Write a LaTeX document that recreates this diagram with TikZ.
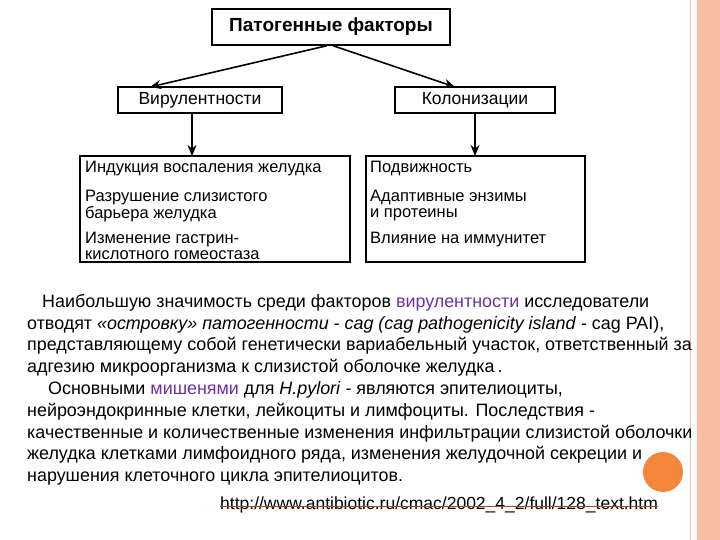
\documentclass[tikz,border=0pt]{standalone}
\usepackage{fontspec}
\setmainfont{Liberation Sans}
\usetikzlibrary{arrows.meta}
\definecolor{salmon}{RGB}{250,190,165}
\definecolor{orng}{RGB}{245,135,60}
\definecolor{purp}{RGB}{112,48,160}
\begin{document}
\begin{tikzpicture}[x=1pt,y=-1pt,
  box/.style={draw,line width=1.4pt,inner sep=0pt},
  item/.style={anchor=north west,align=left,font=\fontsize{16.5}{15.5}\selectfont,inner sep=0pt},
  para/.style={anchor=base west,inner sep=0pt,font=\fontsize{17.9}{20}\selectfont},
  arr/.style={-{Stealth[length=11pt,width=9pt]},line width=1.6pt}]
\useasboundingbox (0,0) rectangle (720,540);
\fill[salmon] (697,0) rectangle (720,540);
\draw[salmon,line width=1pt] (690,0) -- (690,540);
\node[box,minimum width=238,minimum height=36,font=\bfseries\fontsize{19}{21}\selectfont] (top) at (331,27) {Патогенные факторы};
\node[box,minimum width=164,minimum height=26,font=\fontsize{17.5}{19}\selectfont] (vir) at (200,100) {Вирулентности};
\node[box,minimum width=160,minimum height=26,font=\fontsize{17.5}{19}\selectfont] (col) at (475,100) {Колонизации};
\draw[box] (80,156) rectangle (350,262);
\draw[box] (366,156) rectangle (585,262);
\coordinate (bl) at (192,156);
\coordinate (br) at (475,156);
\node[item] (i1) at (85,161) {Индукция воспаления желудка};
\node[item] (i2) at (85,190) {Разрушение слизистого\\барьера желудка};
\node[item] (i3) at (85,232) {Изменение гастрин-\\кислотного гомеостаза};
\node[item] (j1) at (370,161) {Подвижность};
\node[item] (j2) at (370,190) {Адаптивные энзимы\\и протеины};
\node[item] (j3) at (370,232) {Влияние на иммунитет};
\draw[arr] ([xshift=-4pt]top.south) -- (150,87);
\draw[arr] ([xshift=2pt]top.south) -- (455,87);
\draw[arr] (vir.south -| bl) -- (bl);
\draw[arr] (col.south -| br) -- (br);
\node[para] (p1) at (42,307) {Наибольшую значимость среди факторов \textcolor{purp}{вирулентности} исследователи};
\node[para] (p2) at (27,329) {отводят \textit{«островку» патогенности - cag (cag pathogenicity island} - cag PAI),};
\node[para] (p3) at (27,350) {представляющему собой генетически вариабельный участок, ответственный за};
\node[para] (p4) at (27,372) {адгезию микроорганизма к слизистой оболочке желудка\,.};
\node[para] (p5) at (48,394) {Основными \textcolor{purp}{мишенями} для \textit{H.pylori} - являются эпителиоциты,};
\node[para] (p6) at (27,416) {нейроэндокринные клетки, лейкоциты и лимфоциты. Последствия -};
\node[para] (p7) at (27,438) {качественные и количественные изменения инфильтрации слизистой оболочки};
\node[para] (p8) at (27,459) {желудка клетками лимфоидного ряда, изменения желудочной секреции и};
\node[para] (p9) at (27,481) {нарушения клеточного цикла эпителиоцитов.};
\fill[orng] (663,472) circle (20);
\node[para,font=\fontsize{17.5}{19}\selectfont] (url) at (220,509) {http://www.antibiotic.ru/cmac/2002\_4\_2/full/128\_text.htm};
\draw[orng!60!black,line width=1pt] ([yshift=2.5pt]url.base west) -- ([yshift=2.5pt]url.base east);
\end{tikzpicture}
\end{document}
